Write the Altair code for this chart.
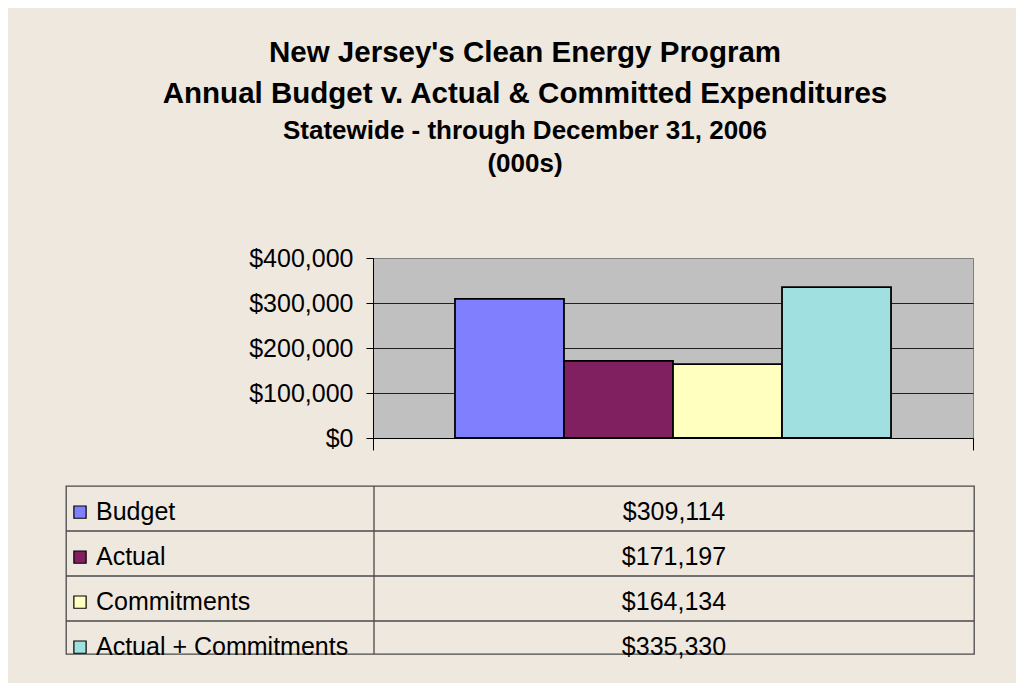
import altair as alt
import pandas as pd

series = ["Budget", "Actual", "Commitments", "Actual + Commitments"]
values = [309114, 171197, 164134, 335330]
colors = ["#8080FF", "#802060", "#FFFFC0", "#A0E0E0"]
y_ticks = [0, 100000, 200000, 300000, 400000]
title_lines = ["New Jersey's Clean Energy Program", "Annual Budget v. Actual & Committed Expenditures"]
subtitle_lines = ["Statewide - through December 31, 2006", "(000s)"]

FONT = "Liberation Sans"
BG = "#EFE8DF"
FS = 25

df = pd.DataFrame({
    "group": ["Statewide"] * len(series),
    "series": series,
    "value": values,
    "idx": list(range(len(series))),
})

color_scale = alt.Scale(domain=series, range=colors)

bars = alt.Chart(df).mark_bar(stroke="black", strokeWidth=1.8).encode(
    x=alt.X("group:N", title=None,
            scale=alt.Scale(paddingInner=0, paddingOuter=0),
            axis=alt.Axis(labels=False, tickBand="extent", tickSize=12,
                          tickColor="black", domainColor="black", grid=False,
                          minExtent=0, maxExtent=12)),
    xOffset=alt.XOffset("series:N", sort=series,
                        scale=alt.Scale(paddingOuter=0.752, paddingInner=0)),
    y=alt.Y("value:Q", title=None,
            scale=alt.Scale(domain=[0, 400000], nice=False),
            axis=alt.Axis(values=y_ticks, format="$,.0f", tickSize=7,
                          labelPadding=13, labelFontSize=FS, labelFont=FONT,
                          labelColor="black", grid=True,
                          gridColor={"condition": {"test": "datum.value >= 400000", "value": "#808080"},
                                     "value": "#202020"},
                          domainColor="black", tickColor="black",
                          minExtent=305, maxExtent=305)),
    color=alt.Color("series:N", scale=color_scale, legend=None),
).properties(width=600, height=180,
             view=alt.ViewBackground(fill="#C0C0C0", stroke="#808080"))

spacer = alt.Chart(df).transform_filter("datum.idx == 0").mark_text(text="").encode(
    x=alt.value(0), y=alt.value(0)
).properties(width=1, height=180, view=alt.ViewBackground(stroke=None, fill=None))

top_row = alt.hconcat(spacer, bars, spacing=0)

yscale = alt.Scale(domain=[0, 3.733], reverse=True, nice=False, zero=False)

tbase = alt.Chart(df).transform_calculate(ypos="datum.idx + 0.58")

lines = tbase.transform_filter("datum.idx > 0").mark_rule(color="#4A4A4A", strokeWidth=1.3).encode(
    y=alt.Y("idx:Q", scale=yscale, axis=None)
)

divider = tbase.transform_filter("datum.idx == 0").mark_rule(color="#4A4A4A", strokeWidth=1.3).encode(
    x=alt.value(308)
)

swatch = tbase.mark_square(size=150, stroke="black", strokeWidth=1.2, opacity=1).encode(
    x=alt.value(14),
    y=alt.Y("ypos:Q", scale=yscale, axis=None),
    fill=alt.Color("series:N", scale=color_scale, legend=None),
)

labels = tbase.mark_text(align="left", baseline="middle", fontSize=FS, font=FONT, color="black").encode(
    x=alt.value(30),
    y=alt.Y("ypos:Q", scale=yscale, axis=None),
    text="series:N",
)

vals = tbase.mark_text(align="center", baseline="middle", fontSize=FS, font=FONT, color="black").encode(
    x=alt.value(608),
    y=alt.Y("ypos:Q", scale=yscale, axis=None),
    text=alt.Text("value:Q", format="$,.0f"),
)

table = alt.layer(lines, divider, swatch, labels, vals).properties(
    width=908, height=168,
    view=alt.ViewBackground(fill=BG, stroke="#4A4A4A", strokeWidth=1.3),
)

chart = alt.vconcat(top_row, table, spacing=32).properties(
    title=alt.TitleParams(
        text=title_lines, subtitle=subtitle_lines,
        font=FONT, fontSize=29.5, fontWeight="bold", lineHeight=41, color="black",
        subtitleFont=FONT, subtitleFontSize=26, subtitleFontWeight="bold",
        subtitleLineHeight=33, subtitleColor="black", subtitlePadding=8,
        anchor="middle", offset=68, dx=5,
    ),
    background=BG,
    padding={"left": 56, "top": 30, "right": 40, "bottom": 22},
).configure_view(stroke=None)

chart.save("out.html", embed_options={"renderer": "svg", "actions": False})
